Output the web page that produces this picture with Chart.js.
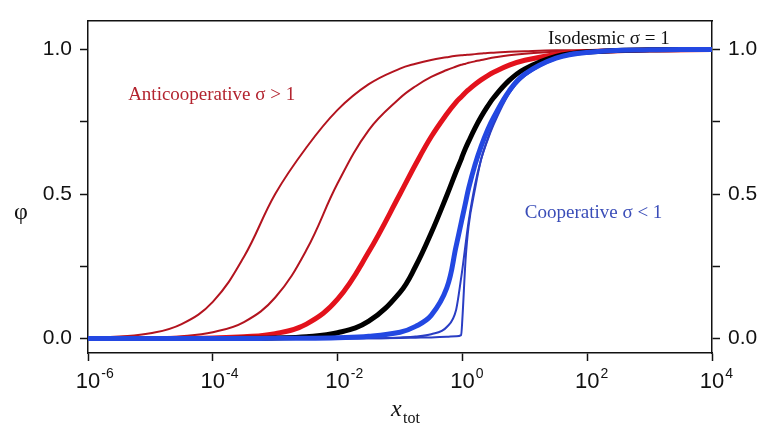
<!DOCTYPE html>
<html>
<head>
<meta charset="utf-8">
<script src="https://cdn.jsdelivr.net/npm/chart.js@4.4.1/dist/chart.umd.min.js"></script>
<style>
  body { margin: 0; background: #fff; }
  #wrap { width: 759px; height: 423px; position: relative; }
</style>
</head>
<body>
<div id="wrap"><canvas id="chart"></canvas></div>
<script>
// total concentration (dimensionless)
const xTot = [1e-6, 3.16e-6, 1e-5, 3.16e-5, 1e-4, 3.16e-4, 1e-3, 3.16e-3, 0.01, 0.0316,
  0.1, 0.178, 0.316, 0.562, 0.794, 0.955, 1, 1.122, 1.259, 1.585, 1.995, 2.512, 3.162,
  5.623, 10, 31.62, 100, 1000, 10000];

// anticooperative, sigma > 1 (red)
const antiStrong = [0.002, 0.007, 0.018, 0.05, 0.127, 0.283, 0.50, 0.661, 0.791, 0.880,
  0.934, 0.951, 0.964, 0.973, 0.978, 0.980, 0.980, 0.981, 0.982, 0.984, 0.986, 0.988, 0.989,
  0.992, 0.994, 0.997, 0.998, 1, 1];
const antiMid = [0, 0.001, 0.003, 0.008, 0.022, 0.057, 0.142, 0.306, 0.537, 0.721,
  0.832, 0.873, 0.905, 0.929, 0.941, 0.947, 0.948, 0.951, 0.954, 0.959, 0.964, 0.968, 0.972,
  0.980, 0.985, 0.992, 0.996, 0.999, 1];
const antiWeak = [0, 0, 0, 0.001, 0.002, 0.006, 0.017, 0.050, 0.136, 0.30,
  0.50, 0.603, 0.698, 0.777, 0.818, 0.836, 0.840, 0.851, 0.861, 0.879, 0.895, 0.909, 0.921,
  0.946, 0.963, 0.983, 0.992, 0.998, 1];

// isodesmic, sigma = 1 (black)
const isodesmic = [0, 0, 0, 0, 0, 0.001, 0.002, 0.006, 0.02, 0.06,
  0.16, 0.25, 0.365, 0.495, 0.578, 0.62, 0.632, 0.658, 0.682, 0.727, 0.767, 0.802, 0.833,
  0.893, 0.933, 0.976, 0.991, 0.999, 1];

// cooperative, sigma < 1 (blue)
const coopWeak = [0, 0, 0, 0, 0, 0, 0.001, 0.001, 0.003, 0.008,
  0.022, 0.042, 0.08, 0.175, 0.32, 0.40, 0.42, 0.47, 0.52, 0.60, 0.665, 0.72, 0.765,
  0.857, 0.915, 0.97, 0.99, 0.999, 1];
const coopMid = [0, 0, 0, 0, 0, 0, 0, 0, 0.001, 0.001,
  0.004, 0.007, 0.015, 0.04, 0.10, 0.21, 0.24, 0.325, 0.405, 0.53, 0.62, 0.688, 0.745,
  0.852, 0.91, 0.968, 0.99, 0.999, 1];
const coopStrong = [0, 0, 0, 0, 0, 0, 0, 0, 0, 0.001,
  0.002, 0.003, 0.004, 0.006, 0.008, 0.012, 0.07, 0.27, 0.39, 0.515, 0.62, 0.685, 0.74,
  0.848, 0.908, 0.967, 0.99, 0.999, 1];

const xTickValues = [1e-6, 1e-4, 1e-2, 1, 1e2, 1e4];
const xTickExponents = ['-6', '-4', '-2', '0', '2', '4'];
const yTickValues = [0, 0.25, 0.5, 0.75, 1];
const yTickLabels = ['0.0', '', '0.5', '', '1.0'];

const notes = [
  { text: 'Anticooperative \u03c3 > 1', x: 4.4e-6, y: 0.824, color: '#b3242f' },
  { text: 'Isodesmic \u03c3 = 1', x: 23.5, y: 1.02, color: '#111' },
  { text: 'Cooperative \u03c3 < 1', x: 10, y: 0.417, color: '#3a4db8' }
];

function pts(arr) {
  return xTot.map((x, i) => ({ x: x, y: arr[i] }));
}

function line(arr, color, width, order, mode) {
  return {
    data: pts(arr),
    borderColor: color,
    borderWidth: width,
    pointRadius: 0,
    fill: false,
    tension: 0.4,
    cubicInterpolationMode: mode || 'default',
    order: order
  };
}

const textPlugin = {
  id: 'texts',
  afterDraw(chart) {
    const ctx = chart.ctx;
    const xs = chart.scales.x;
    const ys = chart.scales.y;
    ctx.save();
    ctx.fillStyle = '#111';
    ctx.textBaseline = 'alphabetic';
    xTickValues.forEach((v, i) => {
      const px = xs.getPixelForValue(v);
      ctx.font = '22px "Liberation Sans", Arial, sans-serif';
      ctx.textAlign = 'center';
      ctx.fillText('10', px, 388);
      const w = ctx.measureText('10').width;
      ctx.font = '14px "Liberation Sans", Arial, sans-serif';
      ctx.textAlign = 'left';
      ctx.fillText(xTickExponents[i], px + w / 2 + 1, 378);
    });

    // axis titles
    ctx.font = '24px "Liberation Serif", "Times New Roman", serif';
    ctx.textAlign = 'center';
    ctx.fillText('\u03c6', 21, 219);
    ctx.font = 'italic 24px "Liberation Serif", "Times New Roman", serif';
    ctx.textAlign = 'left';
    ctx.fillText('x', 391, 416);
    ctx.font = '16px "Liberation Serif", "Times New Roman", serif';
    ctx.fillText('tot', 403, 423);

    // annotations
    ctx.font = '19px "Liberation Serif", "Times New Roman", serif';
    notes.forEach(n => {
      ctx.fillStyle = n.color;
      ctx.fillText(n.text, xs.getPixelForValue(n.x), ys.getPixelForValue(n.y));
    });
    ctx.restore();
  }
};

const yTicksCommon = {
  min: -0.05,
  max: 1.1,
  afterBuildTicks: s => { s.ticks = yTickValues.map(v => ({ value: v })); },
  ticks: {
    autoSkip: false,
    padding: 8,
    color: '#111',
    font: { family: '"Liberation Sans", Arial, sans-serif', size: 21 },
    callback: (v, i) => yTickLabels[i]
  },
  grid: { display: true, drawOnChartArea: false, drawTicks: true, tickLength: 8, color: '#111', tickWidth: 1.5 },
  border: { display: true, color: '#111', width: 1.5 }
};

new Chart(document.getElementById('chart'), {
  type: 'line',
  data: {
    datasets: [
      line(coopStrong, '#2a3ec4', 2, 1, 'monotone'),
      line(coopMid, '#2a3ec4', 2, 2, 'monotone'),
      line(coopWeak, '#2348e2', 5, 0),
      line(isodesmic, '#000000', 5, 3),
      line(antiWeak, '#e3121c', 5, 4),
      line(antiMid, '#b3141f', 2, 5),
      line(antiStrong, '#b3141f', 2, 6)
    ]
  },
  options: {
    responsive: true,
    maintainAspectRatio: false,
    animation: false,
    layout: { padding: 0 },
    plugins: { legend: { display: false }, tooltip: { enabled: false } },
    scales: {
      x: {
        type: 'logarithmic',
        position: 'bottom',
        min: 1e-6,
        max: 1e4,
        afterBuildTicks: s => { s.ticks = xTickValues.map(v => ({ value: v })); },
        afterFit: s => { s.height = 70; },
        ticks: { autoSkip: false, callback: () => '' },
        grid: { display: true, drawOnChartArea: false, drawTicks: true, tickLength: 8, color: '#111', tickWidth: 1.5 },
        border: { display: true, color: '#111', width: 1.5 }
      },
      xTop: {
        type: 'logarithmic',
        position: 'top',
        min: 1e-6,
        max: 1e4,
        afterFit: s => { s.height = 15; },
        ticks: { display: false },
        grid: { display: false },
        border: { display: true, color: '#111', width: 1.5 }
      },
      y: Object.assign({ position: 'left', afterFit: s => { s.width = 88; } }, yTicksCommon),
      yRight: Object.assign({ position: 'right', afterFit: s => { s.width = 47; } }, yTicksCommon)
    }
  },
  plugins: [textPlugin]
});
</script>
</body>
</html>
